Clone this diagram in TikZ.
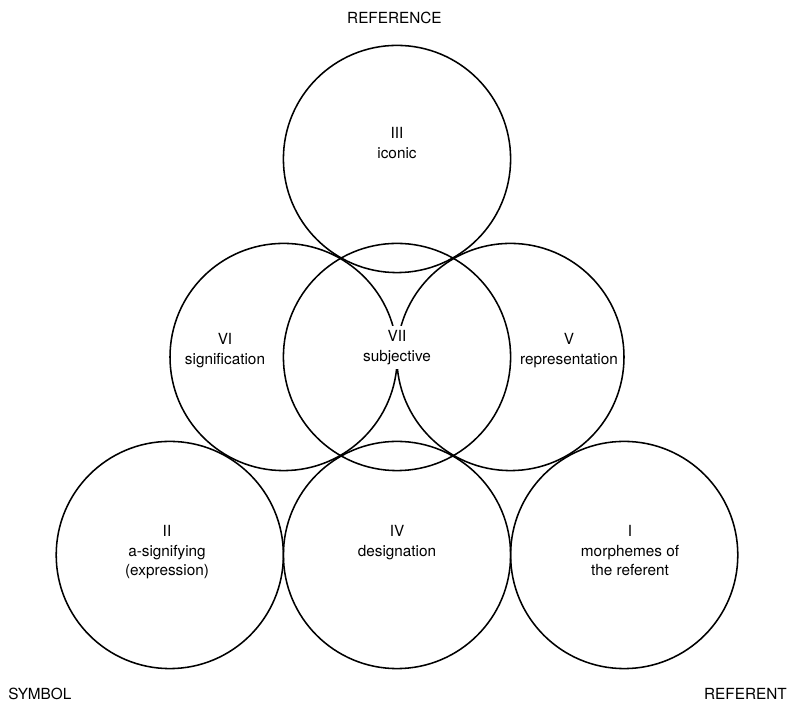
\documentclass[tikz,border=0pt]{standalone}
\usepackage{xcolor}
\usepackage{fontspec}
\setmainfont{TeX Gyre Heros}
\usepackage{tikz}
\tikzset{
    field/.style={circle, draw=black, line width=1.1pt, minimum size=5.68cm, inner sep=0pt},
    tag/.style={align=center, inner sep=3pt, anchor=north, font=\fontsize{10.9pt}{13.9pt}\selectfont},
    cover/.style={fill=white},
    pole/.style={inner sep=0pt, font=\fontsize{10.9pt}{13.9pt}\selectfont}
}

\begin{document}
\begin{tikzpicture}
    \useasboundingbox (0,0) rectangle (19.725,17.65);

    % Circles
    \node[field] (iii) at (9.925, 13.675) {};
    \node[field] (vi)  at (7.09, 8.725) {};
    \node[field] (vii) at (9.925, 8.725) {};
    \node[field] (v)   at (12.76, 8.725) {};
    \node[field] (ii)  at (4.245, 3.775) {};
    \node[field] (iv)  at (9.925, 3.775) {};
    \node[field] (i)   at (15.605, 3.775) {};

    % Labels
    \node[tag] (iiilabel) at (9.925, 14.575) {III\\iconic};
    \node[tag] (vilabel)  at (5.625, 9.425) {VI\\signification};
    \node[tag, cover] (viilabel) at (9.925, 9.5) {VII\\subjective};
    \node[tag] (vlabel)   at (14.225, 9.425) {V\\representation};
    \node[tag] (iilabel)  at (4.175, 4.625) {II\\a-signifying\\(expression)};
    \node[tag] (ivlabel)  at (9.925, 4.625) {IV\\designation};
    \node[tag] (ilabel)   at (15.75, 4.625) {I\\morphemes of\\the referent};

    % Corners
    \node[pole, anchor=base] (reference) at (9.86, 17.05) {REFERENCE};
    \node[pole, anchor=base west] (symbol) at (0.2, 0.15) {SYMBOL};
    \node[pole, anchor=base east] (referent) at (19.675, 0.15) {REFERENT};
\end{tikzpicture}
\end{document}
